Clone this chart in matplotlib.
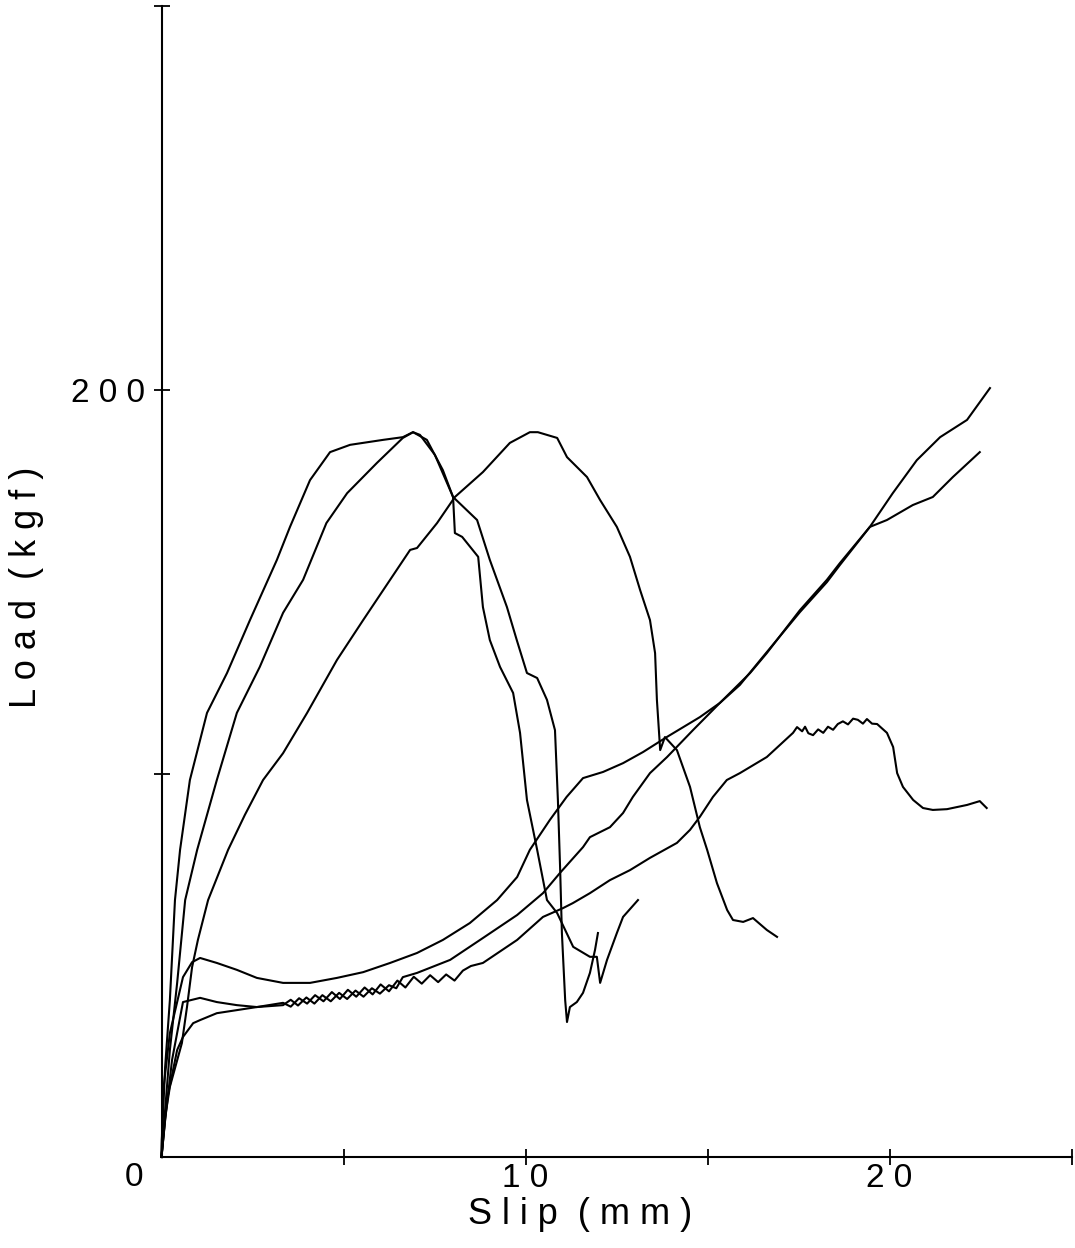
import matplotlib.pyplot as plt
import numpy as np

# slip (mm) / load (kgf) for the six specimens
slip_a = [0, 0.01, 0.10, 0.23, 0.37, 0.51, 0.78, 1.25, 1.80, 2.43, 3.17, 3.53, 4.08, 4.63, 5.18,
          6.09, 6.63, 6.91, 7.29, 7.73, 8.01, 8.06, 8.26, 8.70, 8.83, 9.02, 9.30, 9.66, 9.85,
          10.04, 10.32, 10.59, 10.87, 11.09, 11.31, 11.77, 11.96, 12.05, 12.24, 12.51, 12.68, 13.09]
load_a = [0, 4.4, 23.5, 40.9, 67.0, 80.1, 98.3, 115.8, 126.2, 140.0, 155.7, 164.3, 176.5, 183.8, 185.7,
          187.0, 187.7, 189.0, 187.0, 179.1, 172.1, 162.7, 161.7, 156.5, 143.4, 134.8, 127.8, 121.0, 110.6,
          93.1, 80.1, 67.0, 63.6, 59.2, 54.8, 52.2, 52.2, 45.4, 51.4, 58.4, 62.6, 67.0]

slip_b = [0, 0.10, 0.23, 0.43, 0.65, 0.98, 1.52, 2.07, 2.70, 3.34, 3.89, 4.53, 5.10, 5.92, 6.63,
          6.91, 7.10, 7.51, 8.01, 8.67, 9.02, 9.49, 9.76, 10.04, 10.32, 10.59, 10.81, 10.89, 10.95,
          11.00, 11.09, 11.14, 11.22, 11.41, 11.58, 11.77, 11.91, 11.99]
load_b = [0, 12.3, 27.9, 45.4, 67.0, 80.1, 98.3, 115.8, 127.8, 141.9, 150.5, 165.3, 173.1, 181.0, 187.5,
          189.0, 188.3, 183.1, 172.1, 166.1, 155.7, 143.4, 134.8, 126.2, 124.9, 119.2, 111.3, 93.1, 75.6,
          58.4, 40.9, 35.2, 39.1, 40.4, 42.8, 48.0, 54.0, 58.4]

slip_c = [0, 0.10, 0.23, 0.56, 0.70, 0.84, 1.00, 1.28, 1.83, 2.29, 2.79, 3.34, 4.00, 4.82, 5.54,
          6.28, 6.83, 7.02, 7.57, 8.06, 8.83, 9.57, 10.12, 10.34, 10.87, 11.14, 11.69, 12.05, 12.51,
          12.87, 13.15, 13.42, 13.56, 13.61, 13.70, 13.83, 14.16, 14.52, 14.79, 14.99, 15.26, 15.54,
          15.70, 15.98, 16.25, 16.63, 16.91]
load_c = [0, 10.4, 18.3, 29.7, 39.1, 49.5, 56.6, 67.0, 80.1, 89.2, 98.3, 105.3, 115.8, 129.6, 140.0,
          150.5, 158.3, 158.8, 165.3, 172.1, 178.6, 186.2, 189.0, 189.0, 187.5, 182.5, 177.3, 171.3, 164.3,
          156.5, 147.8, 140.0, 131.4, 119.2, 106.1, 109.5, 106.1, 96.5, 86.0, 80.1, 71.4, 64.4,
          61.8, 61.3, 62.3, 59.2, 57.4]

slip_d = [0, 0.04, 0.23, 0.59, 0.84, 1.06, 1.52, 2.07, 2.62, 3.34, 4.08, 4.82, 5.54, 6.28, 7.02,
          7.73, 8.47, 9.22, 9.77, 10.12, 10.67, 11.13, 11.58, 12.13, 12.68, 13.23, 13.88, 14.79,
          15.34, 16.17, 16.63, 17.54, 18.28, 18.64, 19.46, 20.09, 20.75, 21.39, 22.13, 22.76]
load_d = [0, 16.7, 32.3, 46.9, 50.8, 51.9, 50.6, 48.8, 46.7, 45.4, 45.4, 46.7, 48.2, 50.6, 53.2,
          56.6, 61.0, 67.0, 73.0, 80.1, 87.9, 93.9, 98.8, 100.4, 102.7, 105.6, 109.5, 114.7,
          118.4, 126.2, 131.4, 142.6, 150.5, 154.9, 164.3, 173.1, 181.7, 187.7, 192.2, 200.5]

slip_e = [0, 0.10, 0.29, 0.59, 1.06, 1.52, 2.07, 2.62, 3.34, 3.55, 3.75, 3.98, 4.20, 4.42, 4.65,
          4.88, 5.10, 5.33, 5.55, 5.78, 6.00, 6.25, 6.45, 6.63, 7.02, 7.93, 8.83, 9.77, 10.48,
          10.95, 11.58, 11.77, 12.32, 12.68, 12.95, 13.42, 13.89, 14.60, 15.34, 15.89, 16.52,
          17.54, 18.28, 18.64, 19.46, 19.93, 20.64, 21.19, 21.74, 22.48]
load_e = [0, 9.6, 25.3, 40.4, 41.5, 40.4, 39.6, 39.1, 39.6, 41.0, 39.5, 41.6, 40.0, 42.2, 40.6,
          42.8, 41.2, 43.4, 41.8, 44.0, 42.6, 44.8, 44.0, 46.9, 48.0, 51.4, 57.1, 63.1, 68.8,
          74.1, 80.8, 83.4, 86.0, 89.7, 93.9, 100.1, 104.3, 111.3, 118.4, 123.1, 130.4,
          142.1, 149.9, 154.4, 164.3, 166.1, 170.0, 172.1, 177.3, 183.8]

slip_f = [0, 0.15, 0.43, 0.59, 0.87, 1.06, 1.52, 2.07, 2.62, 3.34, 3.55, 3.78, 4.00, 4.22, 4.45,
          4.68, 4.90, 5.12, 5.35, 5.58, 5.80, 6.02, 6.25, 6.48, 6.70, 6.93, 7.15, 7.38, 7.60,
          7.82, 8.05, 8.28, 8.50, 8.83, 9.77, 10.48, 11.03, 11.30, 11.77, 12.32, 12.87, 13.42,
          14.16, 14.52, 14.79, 15.15, 15.53, 15.89, 16.63, 17.35, 17.46, 17.60, 17.68, 17.77,
          17.90, 18.04, 18.18, 18.31, 18.45, 18.58, 18.72, 18.86, 19.00, 19.13, 19.27, 19.38,
          19.52, 19.66, 19.93, 20.10, 20.21, 20.37, 20.65, 20.92, 21.19, 21.58, 22.13, 22.48, 22.67]
load_f = [0, 14.9, 27.9, 31.3, 34.9, 35.7, 37.5, 38.3, 39.1, 40.2, 39.2, 41.4, 40.0, 42.2, 40.6,
          43.0, 41.2, 43.6, 41.8, 44.2, 42.4, 45.0, 43.2, 46.0, 44.2, 47.0, 45.2, 47.4, 45.6,
          47.6, 46.0, 48.6, 49.8, 50.6, 56.6, 62.6, 64.9, 66.2, 68.8, 72.2, 74.8, 78.0,
          81.9, 85.3, 88.7, 93.9, 98.3, 100.1, 104.3, 110.6, 112.1, 111.0, 112.2, 110.5,
          110.0, 111.5, 110.6, 112.2, 111.4, 112.9, 113.6, 112.8, 114.3, 114.0, 113.0, 114.2,
          113.0, 112.9, 110.6, 106.9, 100.1, 96.5, 93.1, 91.0, 90.5, 90.7, 91.8, 92.8, 91.0]

plt.rcParams['font.family'] = ['Liberation Sans', 'DejaVu Sans']

fig = plt.figure(figsize=(10.75, 12.48), dpi=100)
ax = fig.add_axes([161.5 / 1075, 91 / 1248, 910 / 1075, 1150.5 / 1248])

for s, l in [(slip_a, load_a), (slip_b, load_b), (slip_c, load_c),
             (slip_d, load_d), (slip_e, load_e), (slip_f, load_f)]:
    ax.plot(s, l, color='black', lw=1.5, clip_on=False)

ax.set_xlim(0, 25)
ax.set_ylim(0, 300)
for side in ['top', 'right']:
    ax.spines[side].set_visible(False)
for side in ['left', 'bottom']:
    ax.spines[side].set_linewidth(1.5)

ax.set_xticks([5, 10, 15, 20, 25])
ax.set_xticklabels(['', '1 0', '', '2 0', ''])
ax.set_yticks([100, 200, 300])
ax.set_yticklabels(['', '2 0 0', ''])
ax.tick_params(direction='inout', length=12, width=1.3, labelsize=24)
ax.tick_params(axis='x', pad=-2)
ax.tick_params(axis='y', pad=6)

ax.text(-0.030, -0.004, '0', transform=ax.transAxes, ha='center', va='top', fontsize=24)
fig.text(580 / 1075, 1 - 1215 / 1248, 'S l i p  ( m m )', ha='center', va='center', fontsize=26)
fig.text(27 / 1075, 1 - 587 / 1248, 'L o a d  ( k g f )', ha='center', va='center',
         rotation=90, fontsize=26)

fig.savefig('out.png', dpi=100)
